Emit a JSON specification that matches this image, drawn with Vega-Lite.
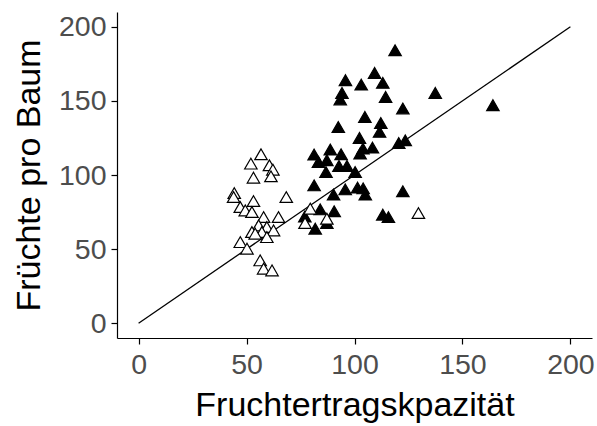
{
  "$schema": "https://vega.github.io/schema/vega-lite/v6.json",
  "autosize": "none",
  "width": 475,
  "height": 326,
  "padding": {"left": 117, "top": 12, "right": 5, "bottom": 88},
  "background": "white",
  "config": {
    "view": {"stroke": null},
    "font": "Liberation Sans",
    "axis": {
      "grid": false,
      "domainColor": "black",
      "domainWidth": 1.2,
      "tickColor": "black",
      "tickWidth": 1.2,
      "tickSize": 6,
      "labelColor": "#4d4d4d",
      "labelFont": "Liberation Sans",
      "labelFontSize": 28.5,
      "titleFont": "Liberation Sans",
      "titleFontSize": 34,
      "titleFontWeight": "normal",
      "titleColor": "black"
    }
  },
  "datasets": {
    "baeume": [
      {"kap": 118.8, "fr": 184.2, "g": "B"},
      {"kap": 109.3, "fr": 168.9, "g": "B"},
      {"kap": 95.8, "fr": 164, "g": "B"},
      {"kap": 103.1, "fr": 161, "g": "B"},
      {"kap": 113.1, "fr": 162.2, "g": "B"},
      {"kap": 94.2, "fr": 155.4, "g": "B"},
      {"kap": 93.4, "fr": 151, "g": "B"},
      {"kap": 114.4, "fr": 152.7, "g": "B"},
      {"kap": 137.4, "fr": 155.4, "g": "B"},
      {"kap": 122.4, "fr": 144.9, "g": "B"},
      {"kap": 164.1, "fr": 147.1, "g": "B"},
      {"kap": 104.8, "fr": 139.2, "g": "B"},
      {"kap": 112.2, "fr": 135.1, "g": "B"},
      {"kap": 92.5, "fr": 132.4, "g": "B"},
      {"kap": 111.6, "fr": 129.1, "g": "B"},
      {"kap": 102.3, "fr": 125, "g": "B"},
      {"kap": 120.5, "fr": 121.6, "g": "B"},
      {"kap": 123.5, "fr": 123.4, "g": "B"},
      {"kap": 108.3, "fr": 118.5, "g": "B"},
      {"kap": 103.9, "fr": 117.8, "g": "B"},
      {"kap": 102.6, "fr": 114.5, "g": "B"},
      {"kap": 88.8, "fr": 117.2, "g": "B"},
      {"kap": 81.3, "fr": 113.8, "g": "B"},
      {"kap": 93.8, "fr": 114, "g": "B"},
      {"kap": 83.3, "fr": 108.8, "g": "B"},
      {"kap": 87.2, "fr": 110, "g": "B"},
      {"kap": 92.8, "fr": 106.1, "g": "B"},
      {"kap": 96.5, "fr": 106.1, "g": "B"},
      {"kap": 86.8, "fr": 102, "g": "B"},
      {"kap": 100.3, "fr": 102, "g": "B"},
      {"kap": 81.3, "fr": 93, "g": "B"},
      {"kap": 95.7, "fr": 90.3, "g": "B"},
      {"kap": 101.4, "fr": 91.5, "g": "B"},
      {"kap": 104, "fr": 91, "g": "B"},
      {"kap": 105, "fr": 86.8, "g": "B"},
      {"kap": 90.3, "fr": 86.8, "g": "B"},
      {"kap": 122.4, "fr": 89, "g": "B"},
      {"kap": 84.1, "fr": 76.8, "g": "B"},
      {"kap": 90.6, "fr": 75.5, "g": "B"},
      {"kap": 113.1, "fr": 73.2, "g": "B"},
      {"kap": 115.7, "fr": 71.6, "g": "B"},
      {"kap": 77, "fr": 72, "g": "B"},
      {"kap": 87.2, "fr": 67.6, "g": "B"},
      {"kap": 81.8, "fr": 63.8, "g": "B"},
      {"kap": 56.7, "fr": 114, "g": "A"},
      {"kap": 52, "fr": 107.7, "g": "A"},
      {"kap": 60.6, "fr": 106.6, "g": "A"},
      {"kap": 62.2, "fr": 103.6, "g": "A"},
      {"kap": 53.2, "fr": 98.2, "g": "A"},
      {"kap": 61.3, "fr": 99.1, "g": "A"},
      {"kap": 44.3, "fr": 87.8, "g": "A"},
      {"kap": 44, "fr": 85.1, "g": "A"},
      {"kap": 68.4, "fr": 85.1, "g": "A"},
      {"kap": 47.1, "fr": 78.4, "g": "A"},
      {"kap": 53.2, "fr": 82.4, "g": "A"},
      {"kap": 49.4, "fr": 76.1, "g": "A"},
      {"kap": 52.5, "fr": 75, "g": "A"},
      {"kap": 57.9, "fr": 71.6, "g": "A"},
      {"kap": 64.8, "fr": 71.6, "g": "A"},
      {"kap": 55.6, "fr": 66, "g": "A"},
      {"kap": 59.4, "fr": 64.9, "g": "A"},
      {"kap": 52.5, "fr": 61.5, "g": "A"},
      {"kap": 57.1, "fr": 61.5, "g": "A"},
      {"kap": 62.5, "fr": 62.6, "g": "A"},
      {"kap": 54, "fr": 60.4, "g": "A"},
      {"kap": 59.4, "fr": 58.1, "g": "A"},
      {"kap": 47.1, "fr": 54.7, "g": "A"},
      {"kap": 50.2, "fr": 50.3, "g": "A"},
      {"kap": 56.3, "fr": 42.4, "g": "A"},
      {"kap": 57.9, "fr": 36.8, "g": "A"},
      {"kap": 61.8, "fr": 35.6, "g": "A"},
      {"kap": 79.5, "fr": 77.3, "g": "A"},
      {"kap": 77.1, "fr": 67.6, "g": "A"},
      {"kap": 87.2, "fr": 70.5, "g": "A"},
      {"kap": 129.6, "fr": 74.3, "g": "A"}
    ],
    "linie": [
      {"kap": 0, "fr": 0},
      {"kap": 200, "fr": 200}
    ]
  },
  "layer": [
    {
      "data": {"name": "linie"},
      "mark": {"type": "line", "color": "black", "strokeWidth": 1.3},
      "encoding": {
        "x": {"field": "kap", "type": "quantitative"},
        "y": {"field": "fr", "type": "quantitative"}
      }
    },
    {
      "data": {"name": "baeume"},
      "mark": {"type": "point", "shape": "triangle-up", "size": 155, "stroke": "black", "strokeWidth": 1.2, "filled": false, "opacity": 1},
      "encoding": {
        "x": {
          "field": "kap", "type": "quantitative",
          "scale": {"domain": [-10, 210], "nice": false, "zero": false},
          "axis": {"values": [0, 50, 100, 150, 200], "title": "Fruchtertragskpazität", "labelPadding": 6, "titlePadding": 10}
        },
        "y": {
          "field": "fr", "type": "quantitative",
          "scale": {"domain": [-10, 210], "nice": false, "zero": false},
          "axis": {"values": [0, 50, 100, 150, 200], "title": "Früchte pro Baum", "labelPadding": 5, "titlePadding": 12}
        },
        "fill": {
          "field": "g", "type": "nominal",
          "scale": {"domain": ["A", "B"], "range": ["white", "black"]},
          "legend": null
        }
      }
    }
  ]
}
